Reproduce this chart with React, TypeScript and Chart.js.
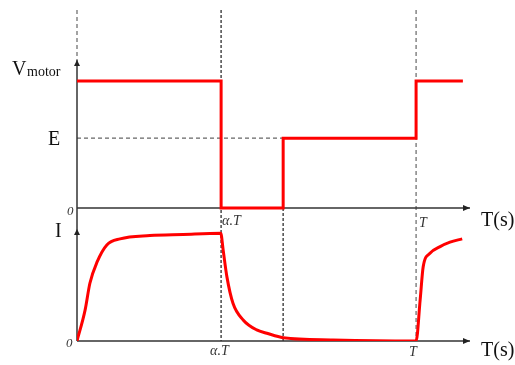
import React, { useEffect, useRef } from "react";
import { Chart, registerables } from "chart.js";

Chart.register(...registerables);

// Key instants (in units of the period T)
const T_PERIOD = 1;
const ALPHA_T = 0.425;
const T_ON = 0.608;

// Motor voltage (stepped waveform)
const vTimes = [0, ALPHA_T, ALPHA_T, T_ON, T_ON, T_PERIOD, T_PERIOD, 1.138];
const vValues = [1, 1, 0, 0, 0.55, 0.55, 1, 1];
const E_LEVEL = 0.55;

// Motor current
const iTimes = [0, 0.024, 0.038, 0.059, 0.088, 0.127, 0.215, 0.313, 0.424,
  0.431, 0.442, 0.46, 0.49, 0.53, 0.56, 0.608, 0.755, 0.99, 1.0,
  1.012, 1.021, 1.041, 1.071, 1.1, 1.136];
const iValues = [0, 0.28, 0.52, 0.71, 0.865, 0.92, 0.95, 0.96, 0.97,
  0.82, 0.58, 0.34, 0.19, 0.1, 0.07, 0.03, 0.01, 0.0, 0.0,
  0.37, 0.67, 0.79, 0.85, 0.89, 0.92];

const FONT = "'Liberation Serif', 'Times New Roman', serif";

const decorPlugin = {
  id: "decor",
  beforeDatasetsDraw(chart: any) {
    const { ctx, chartArea, scales } = chart;
    const x = scales.x, yV = scales.yV, yI = scales.yI;
    const x0 = x.getPixelForValue(0);
    const xA = x.getPixelForValue(ALPHA_T);
    const xOn = x.getPixelForValue(T_ON);
    const xT = x.getPixelForValue(T_PERIOD);
    const xEnd = chartArea.right;
    const yV0 = yV.getPixelForValue(0);
    const yVTop = yV.getPixelForValue(1.165);
    const yE = yV.getPixelForValue(E_LEVEL);
    const yI0 = yI.getPixelForValue(0);
    const yITop = yI.getPixelForValue(1.0);
    const top = chartArea.top;

    ctx.save();
    // dashed guides
    ctx.strokeStyle = "#666";
    ctx.lineWidth = 1.2;
    ctx.setLineDash([4, 3]);
    const dl = (ax: number, ay: number, bx: number, by: number) => {
      ctx.beginPath();
      ctx.moveTo(ax, ay);
      ctx.lineTo(bx, by);
      ctx.stroke();
    };
    dl(x0, top, x0, yVTop);
    dl(xT, top, xT, yI0);
    dl(x0, yE, xOn, yE);
    ctx.strokeStyle = "#555";
    ctx.lineWidth = 1.6;
    ctx.setLineDash([3, 2]);
    dl(xA, top, xA, yI0);
    dl(xOn, yV0, xOn, yI0);

    // axes
    ctx.setLineDash([]);
    ctx.strokeStyle = "#333";
    ctx.lineWidth = 1.5;
    dl(x0, yVTop, x0, yI0);
    dl(x0, yV0, xEnd, yV0);
    dl(x0, yI0, xEnd, yI0);
    ctx.fillStyle = "#222";
    const arrowR = (ax: number, ay: number) => {
      ctx.beginPath();
      ctx.moveTo(ax, ay);
      ctx.lineTo(ax - 7, ay - 3);
      ctx.lineTo(ax - 7, ay + 3);
      ctx.closePath();
      ctx.fill();
    };
    const arrowU = (ax: number, ay: number) => {
      ctx.beginPath();
      ctx.moveTo(ax, ay);
      ctx.lineTo(ax - 3, ay + 6);
      ctx.lineTo(ax + 3, ay + 6);
      ctx.closePath();
      ctx.fill();
    };
    arrowR(xEnd, yV0);
    arrowR(xEnd, yI0);
    arrowU(x0, yVTop);
    arrowU(x0, yITop - 1);
    ctx.restore();
  },
  afterDatasetsDraw(chart: any) {
    const { ctx, chartArea, scales } = chart;
    const x = scales.x, yV = scales.yV, yI = scales.yI;
    const x0 = x.getPixelForValue(0);
    const xA = x.getPixelForValue(ALPHA_T);
    const xT = x.getPixelForValue(T_PERIOD);
    const yV0 = yV.getPixelForValue(0);
    const yV1 = yV.getPixelForValue(1);
    const yE = yV.getPixelForValue(E_LEVEL);
    const yI0 = yI.getPixelForValue(0);
    const yI1 = yI.getPixelForValue(1);
    const xEnd = chartArea.right;

    ctx.save();
    ctx.fillStyle = "#111";
    ctx.textBaseline = "alphabetic";
    ctx.textAlign = "left";
    ctx.font = `20px ${FONT}`;
    ctx.fillText("V", x0 - 65, yV1 - 6);
    ctx.font = `14px ${FONT}`;
    ctx.fillText("motor", x0 - 50, yV1 - 5);
    ctx.font = `20px ${FONT}`;
    ctx.fillText("E", x0 - 29, yE + 7);
    ctx.fillText("I", x0 - 22, yI1 + 7);
    ctx.fillText("T(s)", xEnd + 11, yV0 + 18);
    ctx.fillText("T(s)", xEnd + 11, yI0 + 15);

    ctx.fillStyle = "#333";
    ctx.font = `italic 13px ${FONT}`;
    ctx.fillText("0", x0 - 10, yV0 + 7);
    ctx.fillText("0", x0 - 11, yI0 + 6);
    ctx.font = `italic 14px ${FONT}`;
    ctx.fillText("α.T", xA + 1, yV0 + 17);
    ctx.fillText("α.T", xA - 11, yI0 + 14);
    ctx.fillText("T", xT + 3, yV0 + 19);
    ctx.fillText("T", xT - 7, yI0 + 15);
    ctx.restore();
  },
};

export default function App() {
  const canvasRef = useRef<HTMLCanvasElement | null>(null);

  useEffect(() => {
    if (!canvasRef.current) return;
    const vData = vTimes.map((t, i) => ({ x: t, y: vValues[i] }));
    const iData = iTimes.map((t, i) => ({ x: t, y: iValues[i] }));
    const chart = new Chart(canvasRef.current, {
      type: "line",
      data: {
        datasets: [
          {
            data: vData,
            yAxisID: "yV",
            borderColor: "#ff0000",
            borderWidth: 3,
            pointRadius: 0,
            tension: 0,
            fill: false,
          },
          {
            data: iData,
            yAxisID: "yI",
            borderColor: "#ff0000",
            borderWidth: 3,
            pointRadius: 0,
            cubicInterpolationMode: "monotone",
            fill: false,
          },
        ],
      },
      options: {
        animation: false,
        responsive: false,
        devicePixelRatio: 1,
        layout: { padding: { left: 77, right: 45, top: 10, bottom: 24 } },
        plugins: {
          legend: { display: false },
          tooltip: { enabled: false },
        },
        scales: {
          x: { type: "linear", display: false, min: 0, max: 1.159 },
          yV: { type: "linear", display: false, min: -1.047, max: 1.559 },
          yI: { type: "linear", display: false, min: 0, max: 2.982 },
        },
      },
      plugins: [decorPlugin],
    });
    return () => chart.destroy();
  }, []);

  return (
    <div style={{ position: "absolute", left: 0, top: 0, width: 515, height: 365, background: "#fff" }}>
      <canvas ref={canvasRef} width={515} height={365} />
    </div>
  );
}
